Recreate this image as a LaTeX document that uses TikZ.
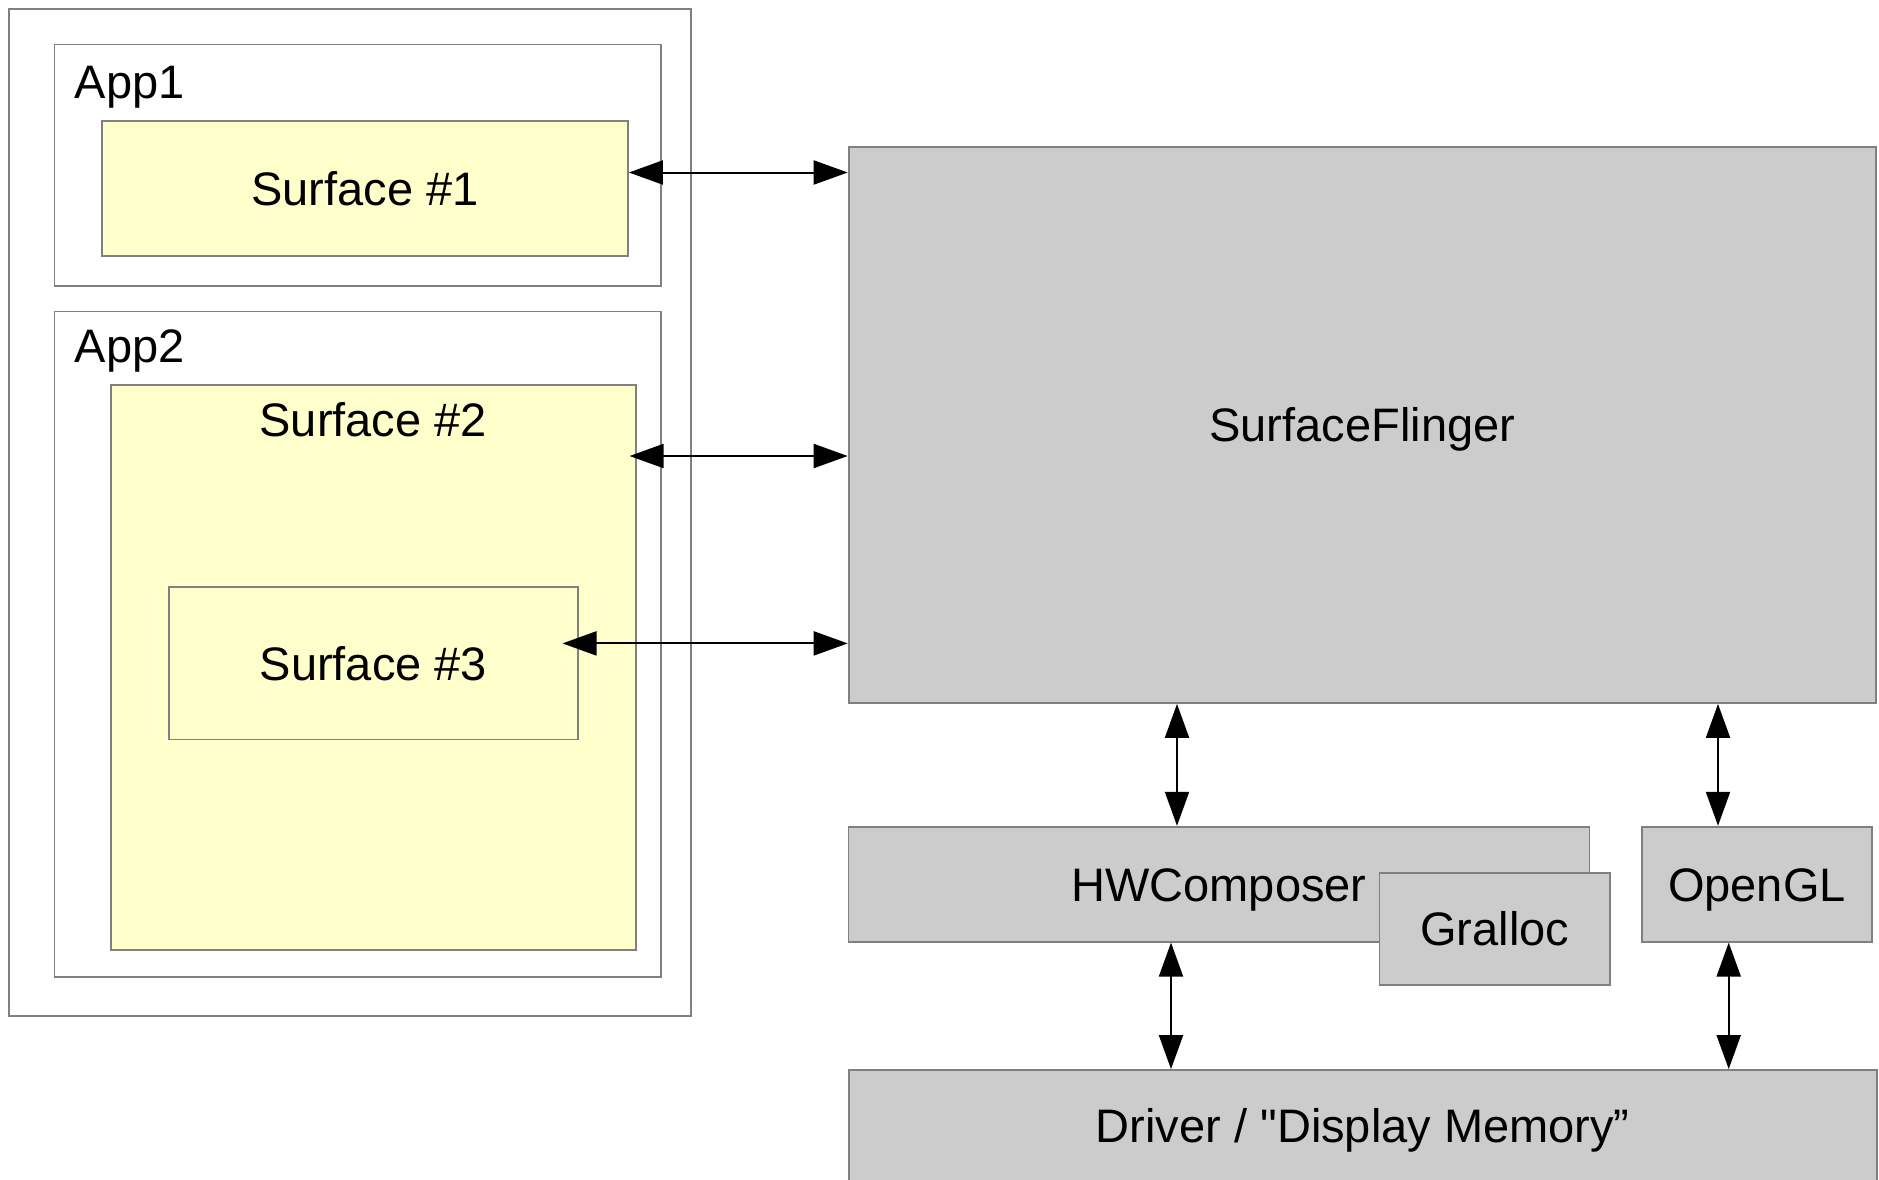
\documentclass[tikz,border=0pt]{standalone}
\usepackage{fontspec}
\setmainfont{Liberation Sans}[Ligatures=TeXOff]
\usetikzlibrary{arrows.meta,calc}
\definecolor{bordergray}{HTML}{808080}
\definecolor{boxgray}{HTML}{CCCCCC}
\definecolor{surfyellow}{HTML}{FFFFCC}
\begin{document}
\begin{tikzpicture}[x=0.5pt,y=-0.5pt,
  font=\fontsize{23.5}{28}\selectfont,
  box/.style={draw=bordergray,line width=0.9pt,rectangle,inner sep=0pt,
    text height=16.8pt,text depth=0pt},
  appbox/.style={box,fill=white},
  surfbox/.style={box,fill=surfyellow},
  graybox/.style={box,fill=boxgray},
  lbl/.style={inner sep=0pt},
  biarrow/.style={draw=black,line width=1pt,
    {Triangle[length=17pt,width=12pt]}-{Triangle[length=17pt,width=12pt]}}]
\useasboundingbox (0,0) rectangle (1879,1179);
\fill[white] (0,0) rectangle (1879,1179);

% left side
\node[appbox, minimum width=341pt, minimum height=503.5pt] (outer) at (350,512.5) {};
\node[appbox, minimum width=303.25pt, minimum height=120.75pt] (app1) at (357.75,165.25) {};
\node[lbl, anchor=base west] (app1label) at (74.5,98) {App1};
\node[surfbox, minimum width=263pt, minimum height=67.5pt] (surf1) at (365,188.5) {Surface \#1};

\node[appbox, minimum width=303.25pt, minimum height=332.75pt] (app2) at (357.75,644.25) {};
\node[lbl, anchor=base west] (app2label) at (74.5,362) {App2};
\node[surfbox, minimum width=262.5pt, minimum height=282.35pt] (surf2) at (373.2,667.35) {};
\node[lbl, anchor=base] (surf2label) at (373.2,436.4) {Surface \#2};
\node[surfbox, minimum width=204.6pt, minimum height=76.2pt] (surf3) at (373.4,663.2) {Surface \#3};

% right side
\node[graybox, minimum width=513.7pt, minimum height=278.15pt] (sf) at (1362.3,424.85) {SurfaceFlinger};
\node[graybox, minimum width=370.45pt, minimum height=57.5pt] (hwc) at (1219,884.2) {HWComposer};
\node[graybox, minimum width=115.3pt, minimum height=56.15pt] (gralloc) at (1494.7,928.85) {Gralloc};
\node[graybox, minimum width=115.1pt, minimum height=57.5pt] (opengl) at (1756.9,884.2) {OpenGL};
\node[graybox, minimum width=514.2pt, minimum height=56pt] (driver) at (1362.8,1126) {Driver / "Display Memory”};

% helper coordinates for connector rows/columns
\coordinate (a1) at (740,172.5);
\coordinate (a2) at (740,456);
\coordinate (a3) at (740,643.4);
\coordinate (v1) at (1177,780);
\coordinate (v2) at (1718,780);
\coordinate (v3) at (1171,1000);
\coordinate (v4) at (1728.7,1000);

% connectors
\draw[biarrow] (a1 -| surf1.east) -- (a1 -| sf.west);
\draw[biarrow] ($(a2 -| surf2.east)+(-7,0)$) -- (a2 -| sf.west);
\draw[biarrow] ($(a3 -| surf3.east)+(-16.4,0)$) -- (a3 -| sf.west);
\draw[biarrow] (v1 |- sf.south) -- (v1 |- hwc.north);
\draw[biarrow] (v2 |- sf.south) -- (v2 |- opengl.north);
\draw[biarrow] (v3 |- hwc.south) -- (v3 |- driver.north);
\draw[biarrow] (v4 |- opengl.south) -- (v4 |- driver.north);
\end{tikzpicture}
\end{document}
